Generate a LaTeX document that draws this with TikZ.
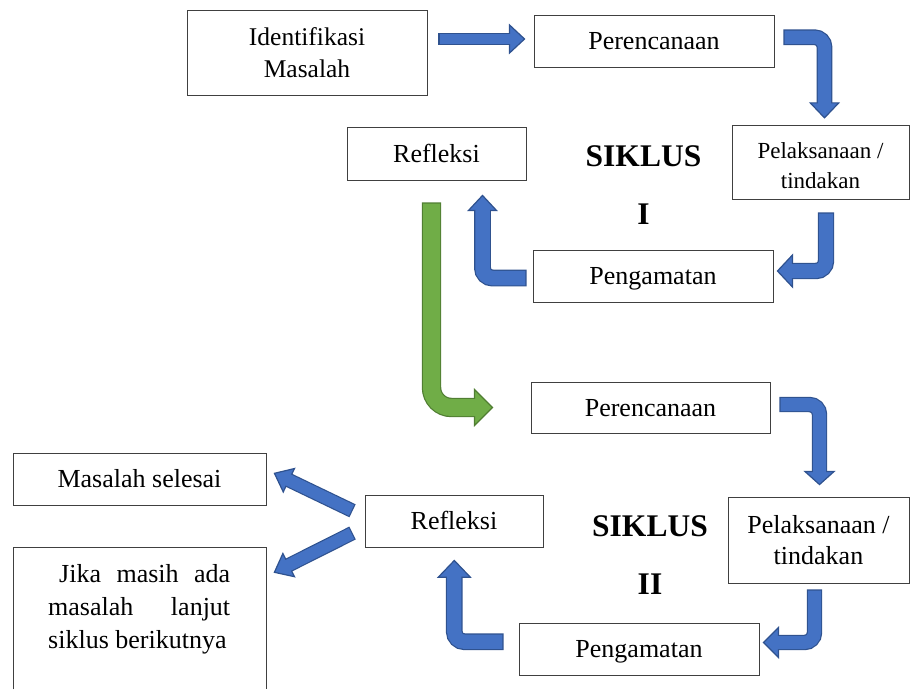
\documentclass[tikz,border=0pt]{standalone}
\usepackage{fontspec}
\setmainfont{Liberation Serif}
\usetikzlibrary{calc}
\definecolor{bluemain}{HTML}{4472C4}
\definecolor{blueborder}{HTML}{2F528F}
\definecolor{greenmain}{HTML}{70AD47}
\definecolor{greenborder}{HTML}{507E32}
\definecolor{boxline}{HTML}{404040}
% #1 colour prefix, #2 shaft width, #3 corner radius, #4 shaft path prefix,
% #5 point the head is aimed from, #6 tip, #7 head length, #8 head half width
\newcommand\fatarrow[8]{%
  \path ($(#6)!#7!(#5)$) coordinate (hb);
  \path ($(hb)!3pt!(#6)$) coordinate (he);
  \draw[#1border, line width=#2+2.4pt, rounded corners=#3] #4 (he);
  \filldraw[fill=#1main, draw=#1border, line width=1.2pt, line join=miter]
    (#6) -- ($(hb)!#8!90:(#6)$) -- ($(hb)!#8!-90:(#6)$) -- cycle;
  \draw[#1main, line width=#2, rounded corners=#3, shorten <=1.2pt] #4 (he);
}
\tikzset{
  boxbase/.style={draw=boxline, line width=0.9pt, inner sep=0pt},
  oneline/.style={boxbase, font=\fontsize{26pt}{32pt}\selectfont, text height=17.2pt, text depth=0pt},
  twoline/.style={boxbase, align=center},
  siklus/.style={inner sep=0pt, align=center, font=\fontsize{31.5pt}{58pt}\selectfont\bfseries}
}
\begin{document}
\begin{tikzpicture}[x=1pt,y=-1pt]
\useasboundingbox (0,0) rectangle (910,689);
% cycle I
\node[twoline, font=\fontsize{25.5pt}{32pt}\selectfont, minimum width=240pt, minimum height=85pt] (idm) at (307,52.5) {Identifikasi\\Masalah};
\node[oneline, minimum width=240pt, minimum height=52pt] (per1) at (654,41) {Perencanaan};
\node[twoline, font=\fontsize{23pt}{30pt}\selectfont, minimum width=177pt, minimum height=74pt] (pel1) at (820.5,162) {\rule{0pt}{23.5pt}Pelaksanaan /\\tindakan};
\node[oneline, minimum width=240pt, minimum height=52pt] (pen1) at (653,276) {Pengamatan};
\node[oneline, minimum width=179pt, minimum height=53pt] (ref1) at (436.5,153.5) {Refleksi};
\node[siklus] (sik1) at (643.5,185.3) {SIKLUS\\I};
% cycle II
\node[oneline, minimum width=239pt, minimum height=51pt] (per2) at (650.5,407.5) {Perencanaan};
\node[twoline, font=\fontsize{26pt}{31.6pt}\selectfont, minimum width=181pt, minimum height=86pt] (pel2) at (818.5,540) {Pelaksanaan /\\tindakan};
\node[oneline, minimum width=240pt, minimum height=52pt] (pen2) at (639,649) {Pengamatan};
\node[oneline, minimum width=178pt, minimum height=52pt] (ref2) at (454,521) {Refleksi};
\node[siklus] (sik2) at (650,555.3) {SIKLUS\\II};
% outcomes
\node[oneline, minimum width=253pt, minimum height=52pt] (mas) at (139.5,479) {Masalah selesai};
\node[inner sep=0pt, anchor=north west] (jika) at (13,547) {\parbox[c][142pt][t]{253pt}{\fontsize{26pt}{33pt}\selectfont
  \vspace*{17pt}\hspace*{46pt}\makebox[171pt][s]{Jika masih ada}\\
  \hspace*{35pt}\makebox[182pt][s]{masalah lanjut}\\
  \hspace*{35pt}siklus berikutnya}};
\draw[draw=boxline, line width=0.9pt] (jika.south west) -- (jika.north west) -- (jika.north east) -- (jika.south east);
% arrow end points
\coordinate (a1s) at ($(idm.east |- per1.west)+(11,-2)$);
\coordinate (a1t) at ($(per1.west)+(-9,-2)$);
\coordinate (a2s) at ($(per1.east)+(9,-3.8)$);
\coordinate (a2t) at ($(pel1.north)+(4,-6.7)$);
\coordinate (a2c) at (a2t |- a2s);
\coordinate (a3s) at ($(pel1.south)+(5.5,13)$);
\coordinate (a3t) at ($(pen1.east)+(4,-5)$);
\coordinate (a3c) at (a3s |- a3t);
\coordinate (a4s) at ($(pen1.west)+(-6,2)$);
\coordinate (a4t) at ($(ref1.south)+(46,15)$);
\coordinate (a4c) at (a4t |- a4s);
\coordinate (a5s) at ($(ref1.south)+(-5,22)$);
\coordinate (a5t) at ($(per2.west)+(-38,0)$);
\coordinate (a5c) at (a5s |- a5t);
\coordinate (a6s) at ($(per2.east)+(9,-3)$);
\coordinate (a6t) at ($(pel2.north)+(1,-12)$);
\coordinate (a6c) at (a6t |- a6s);
\coordinate (a7s) at ($(pel2.south)+(-4,6)$);
\coordinate (a7t) at ($(pen2.east)+(4,-6.5)$);
\coordinate (a7c) at (a7s |- a7t);
\coordinate (a8s) at ($(pen2.west)+(-15,-7.3)$);
\coordinate (a8t) at ($(ref2.south)+(0.3,13)$);
\coordinate (a8c) at (a8t |- a8s);
\coordinate (a9s) at ($(ref2.west)+(-12,-10.2)$);
\coordinate (a9t) at ($(mas.east)+(8,-5.7)$);
\coordinate (a10s) at ($(ref2.west)+(-12,12)$);
\coordinate (a10t) at ($(jika.north east)+(8,25.3)$);
% arrows
\fatarrow{blue}{10pt}{0pt}{(a1s) --}{a1s}{a1t}{15pt}{14pt}
\fatarrow{blue}{13.3pt}{10pt}{(a2s) -- (a2c) --}{a2c}{a2t}{15pt}{14.3pt}
\fatarrow{blue}{14pt}{10pt}{(a3s) -- (a3c) --}{a3c}{a3t}{15pt}{16pt}
\fatarrow{blue}{14.5pt}{10pt}{(a4s) -- (a4c) --}{a4c}{a4t}{15pt}{14pt}
\fatarrow{green}{17pt}{20pt}{(a5s) -- (a5c) --}{a5c}{a5t}{18pt}{18pt}
\fatarrow{blue}{13pt}{10pt}{(a6s) -- (a6c) --}{a6c}{a6t}{13pt}{14.5pt}
\fatarrow{blue}{13pt}{10pt}{(a7s) -- (a7c) --}{a7c}{a7t}{15pt}{15pt}
\fatarrow{blue}{14.3pt}{10pt}{(a8s) -- (a8c) --}{a8c}{a8t}{16.7pt}{16pt}
\fatarrow{blue}{12pt}{0pt}{(a9s) --}{a9s}{a9t}{16pt}{13pt}
\fatarrow{blue}{12pt}{0pt}{(a10s) --}{a10s}{a10t}{16pt}{13pt}
\end{tikzpicture}
\end{document}
